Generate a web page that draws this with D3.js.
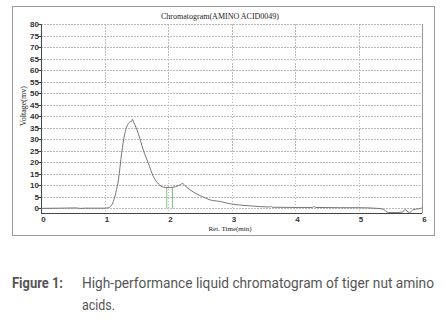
<!DOCTYPE html>
<html>
<head>
<meta charset="utf-8">
<script src="https://cdn.jsdelivr.net/npm/d3@7"></script>
<style>
body { margin: 0; background: #fff; }
.grid line { stroke: #bbb; stroke-dasharray: 1.5,1.5; shape-rendering: crispEdges; }
.axis text { font-family: "Liberation Sans", Arial, sans-serif; font-weight: bold; font-size: 8px; fill: #333; }
.axis path, .axis line { stroke: #444; shape-rendering: crispEdges; }
</style>
</head>
<body>
<svg id="myGraph" width="446" height="322"></svg>
<script>
// chromatogram data
var retTime = [0, 0.3, 0.55, 0.62, 0.7, 1.0, 1.06, 1.1, 1.14, 1.18, 1.22, 1.27, 1.32, 1.375, 1.41, 1.43, 1.44, 1.46, 1.53, 1.61, 1.69, 1.77, 1.85, 1.93, 2.0, 2.08, 2.16, 2.2, 2.23, 2.27, 2.35, 2.45, 2.56, 2.66, 2.82, 2.98, 3.29, 3.6, 3.62, 3.64, 4.0, 4.28, 4.3, 4.32, 4.7, 5.0, 5.3, 5.39, 5.47, 5.6, 5.7, 5.73, 5.8, 5.87, 5.95, 6.0];
var voltage = [0, 0.1, 0.2, 0, 0.1, 0.1, 0.3, 1.0, 3.0, 7.0, 12.5, 24, 32.5, 36.8, 37.6, 37.8, 38.6, 37.4, 32.7, 25.4, 19.6, 13.8, 10.6, 9.2, 9.0, 9.2, 9.8, 10.4, 10.8, 9.8, 8, 6.3, 4.9, 3.7, 3.0, 2.0, 1.1, 0.6, 1.0, 0.5, 0.4, 0.4, 0.9, 0.4, 0.3, 0.3, 0.0, -0.4, -1.8, -1.8, -1.5, -0.5, -1.8, -0.5, -0.2, 0.2];
var markTime = [1.98, 2.07];	// green integration marks
var markHeight = [9.2, 9.1];
var xTicks = [0, 1, 2, 3, 4, 5, 6];
var yTicks = [0, 5, 10, 15, 20, 25, 30, 35, 40, 45, 50, 55, 60, 65, 70, 75, 80];

var svg = d3.select("#myGraph");
var plotL = 41, plotR = 422, plotT = 24, plotB = 213;

var xScale = d3.scaleLinear().domain([0, 6]).range([plotL, plotR]);
var yScale = d3.scaleLinear().domain([-2, 80]).range([plotB, plotT]);

// outer frame
svg.append("rect")
	.attr("x", 12.5).attr("y", 6.5)
	.attr("width", 422).attr("height", 229)
	.attr("fill", "none").attr("stroke", "#999");

// grid
var grid = svg.append("g").attr("class", "grid");
grid.selectAll(".h").data(yTicks).enter().append("line")
	.attr("x1", plotL).attr("x2", plotR)
	.attr("y1", function(d){ return Math.round(yScale(d)) + 0.5; })
	.attr("y2", function(d){ return Math.round(yScale(d)) + 0.5; });
grid.selectAll(".v").data(xTicks.slice(1, 6)).enter().append("line")
	.attr("y1", plotT).attr("y2", plotB)
	.attr("x1", function(d){ return Math.round(xScale(d)) + 0.5; })
	.attr("x2", function(d){ return Math.round(xScale(d)) + 0.5; });

// right border
svg.append("line")
	.attr("x1", plotR + 0.5).attr("x2", plotR + 0.5)
	.attr("y1", plotT).attr("y2", plotB)
	.attr("stroke", "#999");

// axes
var yAxis = d3.axisLeft(yScale).tickValues(yTicks).tickFormat(d3.format("d")).tickSize(3).tickPadding(-1);
svg.append("g").attr("class", "axis")
	.attr("transform", "translate(" + plotL + ",0)")
	.call(yAxis)
	.call(function(g){ g.select(".domain").attr("d", "M0.5," + plotT + "V" + plotB); });

var xAxis = d3.axisBottom(xScale).tickValues(xTicks).tickFormat(d3.format("d")).tickSize(0).tickPadding(3);
svg.append("g").attr("class", "axis")
	.attr("transform", "translate(0," + plotB + ")")
	.call(xAxis)
	.call(function(g){
		g.select(".domain").attr("d", "M" + plotL + ",0.5H" + plotR);
		g.selectAll("text").attr("dx", 2);
	});

// green marks
svg.selectAll(".mark").data(markTime).enter().append("line")
	.attr("x1", function(d){ return xScale(d); })
	.attr("x2", function(d){ return xScale(d); })
	.attr("y1", yScale(0))
	.attr("y2", function(d, i){ return yScale(markHeight[i]); })
	.attr("stroke", "#7fc27f").attr("stroke-width", 1);

// chromatogram line
var line = d3.line()
	.x(function(d, i){ return xScale(retTime[i]); })
	.y(function(d){ return yScale(d); })
	.curve(d3.curveMonotoneX);
svg.append("path")
	.attr("d", line(voltage))
	.attr("fill", "none")
	.attr("stroke", "#666")
	.attr("stroke-width", 0.9);

// titles
svg.append("text")
	.attr("x", 220).attr("y", 19)
	.attr("text-anchor", "middle")
	.attr("font-family", "Liberation Serif, Times New Roman, serif")
	.attr("font-size", 8).attr("fill", "#222")
	.text("Chromatogram(AMINO ACID0049)");
svg.append("text")
	.attr("x", 230).attr("y", 231)
	.attr("text-anchor", "middle")
	.attr("font-family", "Liberation Serif, Times New Roman, serif")
	.attr("font-size", 7).attr("fill", "#222")
	.text("Ret. Time(min)");
svg.append("text")
	.attr("transform", "translate(26,106) rotate(-90)")
	.attr("text-anchor", "middle")
	.attr("font-family", "Liberation Serif, Times New Roman, serif")
	.attr("font-size", 8).attr("fill", "#222")
	.text("Voltage(mv)");

// caption
var cap = svg.append("g")
	.attr("font-family", "Roboto, sans-serif")
	.attr("font-size", 14).attr("fill", "#555");
cap.append("text").attr("x", 12).attr("y", 288)
	.attr("font-weight", "bold")
	.attr("textLength", 51).attr("lengthAdjust", "spacingAndGlyphs")
	.text("Figure 1:");
cap.append("text").attr("x", 82).attr("y", 288)
	.attr("textLength", 352).attr("lengthAdjust", "spacingAndGlyphs")
	.text("High-performance liquid chromatogram of tiger nut amino");
cap.append("text").attr("x", 82).attr("y", 310)
	.attr("textLength", 33).attr("lengthAdjust", "spacingAndGlyphs")
	.text("acids.");
</script>
</body>
</html>
